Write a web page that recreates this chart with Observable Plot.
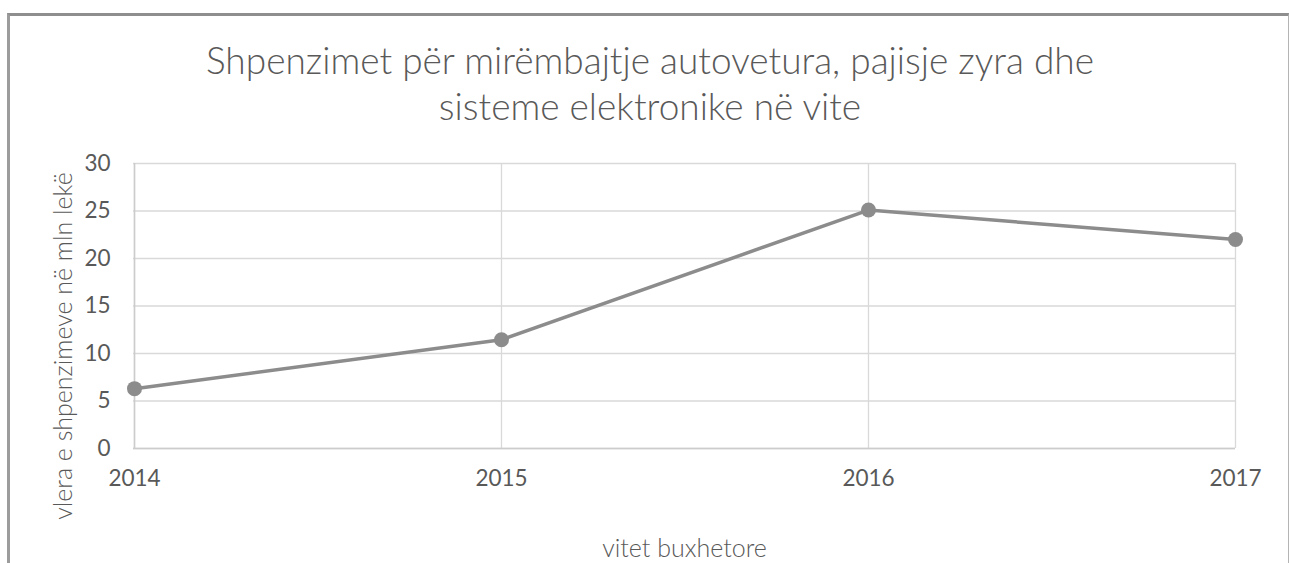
<!DOCTYPE html>
<html>
<head>
<meta charset="utf-8">
<script src="https://cdn.jsdelivr.net/npm/d3@7"></script>
<script src="https://cdn.jsdelivr.net/npm/@observablehq/plot@0.6"></script>
<style>
  html, body { margin: 0; padding: 0; background: #fff; }
  body { width: 1290px; height: 563px; position: relative; overflow: hidden; font-family: Lato, "Open Sans", sans-serif; }
  #frame { position: absolute; left: 7px; top: 13px; width: 1278px; height: 560px;
           border-top: 3px solid #8e8e8e; border-left: 3px solid #9c9c9c; border-right: 1px solid #b4b4b4; }
  #title { position: absolute; left: 5px; top: 0; width: 1290px; height: 140px; text-align: center;
           color: #595959; font-family: Lato, "Open Sans", sans-serif; font-weight: 300; font-size: 37px; line-height: 46px; padding-top: 37px; box-sizing: border-box; }
  #chart { position: absolute; left: 0; top: 140px; }
</style>
</head>
<body>
<div id="frame"></div>
<div id="title">Shpenzimet për mirëmbajtje autovetura, pajisje zyra dhe<br>sisteme elektronike në vite</div>
<div id="chart"></div>
<script>
const years = ["2014", "2015", "2016", "2017"];
const values = [6.3, 11.45, 25.1, 22.0];
const yTicks = [0, 5, 10, 15, 20, 25, 30];
const xLabel = "vitet buxhetore";
const yLabel = "vlera e shpenzimeve në mln lekë";

const data = years.map((y, i) => ({year: y, value: values[i]}));

const chart = Plot.plot({
  width: 1290,
  height: 423,
  marginTop: 23,
  marginBottom: 115,
  marginLeft: 133,
  marginRight: 55,
  style: {fontFamily: "Lato, 'Open Sans', sans-serif", fontSize: "22px", color: "#595959", background: "transparent", overflow: "visible"},
  x: {type: "point", domain: years, padding: 0, label: null},
  y: {domain: [0, 30], ticks: yTicks, label: null},
  marks: [
    Plot.gridY(yTicks, {stroke: "#d9d9d9", strokeOpacity: 1, strokeWidth: 1.3}),
    Plot.gridX(years, {stroke: "#d9d9d9", strokeOpacity: 1, strokeWidth: 1.3}),
    Plot.ruleY([0], {stroke: "#cccccc", strokeWidth: 1.5}),
    Plot.ruleX([years[0]], {stroke: "#cccccc", strokeWidth: 1.5}),
    Plot.axisY(yTicks, {tickSize: 0, tickPadding: 23, fill: "#595959", fontSize: 22.5}),
    Plot.axisX(years, {tickSize: 0, tickPadding: 22, fill: "#595959", fontSize: 22.5}),
    Plot.text([yLabel], {frameAnchor: "left", textAnchor: "middle", rotate: -90, dx: -70, dy: 40, fill: "#595959", fontSize: 25, fontWeight: 300}),
    Plot.text([xLabel], {frameAnchor: "bottom", textAnchor: "middle", dy: 108, fill: "#595959", fontSize: 25, fontWeight: 300}),
    Plot.line(data, {x: "year", y: "value", stroke: "#8c8c8c", strokeWidth: 3.5}),
    Plot.dot(data, {x: "year", y: "value", r: 7.5, fill: "#8c8c8c", stroke: "none"})
  ]
});
document.getElementById("chart").appendChild(chart);
</script>
</body>
</html>
